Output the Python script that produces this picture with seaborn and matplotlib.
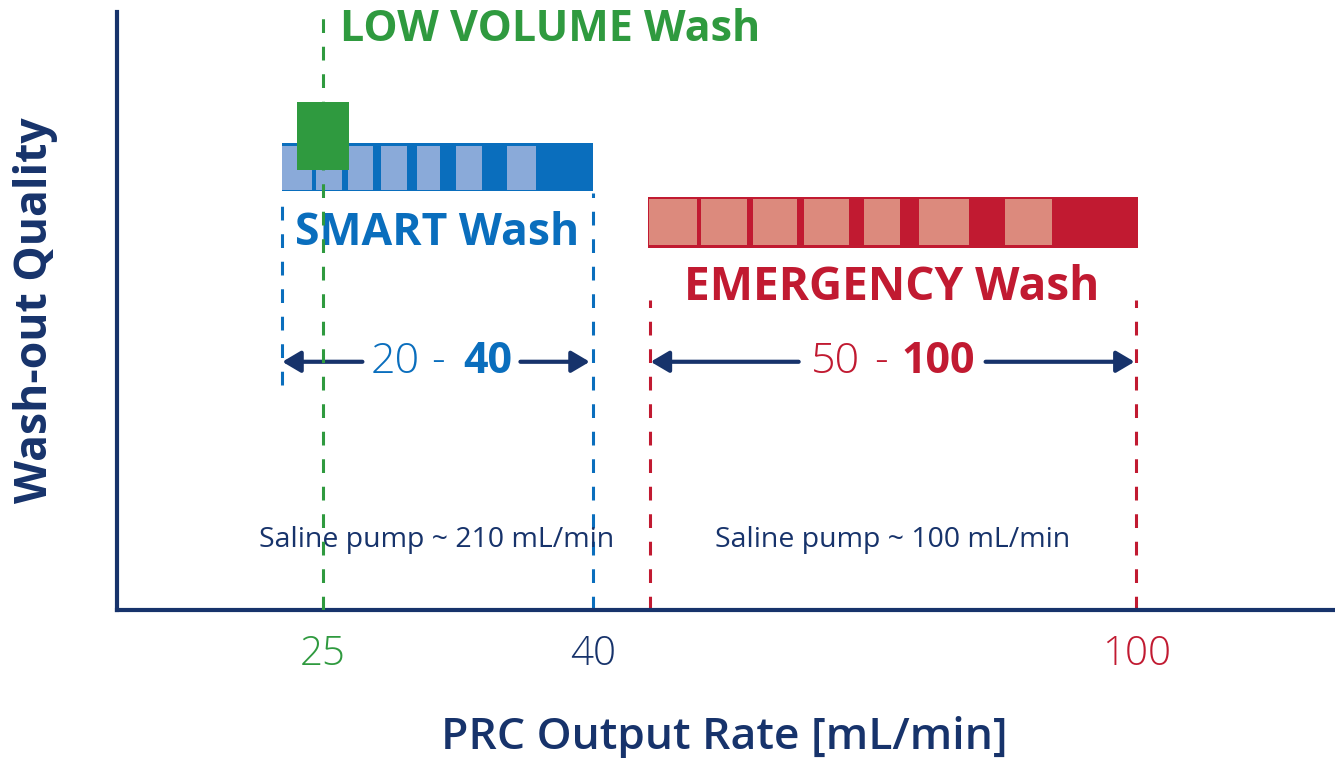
import numpy as np
import matplotlib
matplotlib.use("Agg")
import matplotlib.pyplot as plt
import seaborn as sns

# ---- data (rates in mL/min, quality in arbitrary units 0-10) ----
smart_range = [19.95, 40.1]
smart_light_start = [19.96, 24.2, 26.39, 28.22, 30.21, 32.39, 35.21]
smart_light_end = [23.7, 26.04, 27.78, 29.67, 31.5, 33.83, 36.82]
smart_quality = [7.0, 7.81]

emerg_range = [49.72, 100.2]
emerg_light_start = [49.83, 55.24, 60.61, 65.84, 71.97, 77.65, 86.52]
emerg_light_end = [54.86, 59.99, 65.13, 70.46, 75.74, 82.75, 91.35]
emerg_quality = [6.06, 6.91]

lowvol_range = [21.8, 26.45]
lowvol_quality = [7.36, 8.50]
lowvol_rate = 25

tick_rates = [25, 40, 100]
tick_labels = ["25", "40", "100"]

# schematic (non-linear) rate axis
axis_breaks = [0, 20, 25, 40, 50, 100, 130]
axis_pos = [0, 0.1355, 0.1691, 0.3908, 0.4376, 0.8374, 1.0]

NAVY = "#17336b"
BLUE = "#0a6ebd"
LBLUE = "#8aaad9"
GREEN = "#2f9a3f"
RED = "#c11a31"
LRED = "#dc8a7d"


def fwd(x):
    return np.interp(x, axis_breaks, axis_pos)


def inv(p):
    return np.interp(p, axis_pos, axis_breaks)


sns.set_style("white")
plt.rcParams["font.family"] = ["Open Sans", "DejaVu Sans"]

fig = plt.figure(figsize=(13.35, 7.58), dpi=100)
ax = fig.add_axes([0.0876, 0.1953, 0.912, 0.789])
ax.set_xscale("function", functions=(fwd, inv))
ax.set_xlim(0, 130)
ax.set_ylim(0, 10)

# bars
flat = dict(edgecolor="none", linewidth=0)
ax.broken_barh([(smart_range[0], smart_range[1] - smart_range[0])],
               (smart_quality[0], smart_quality[1] - smart_quality[0]),
               facecolors=BLUE, zorder=2, **flat)
ax.broken_barh([(s, e - s) for s, e in zip(smart_light_start, smart_light_end)],
               (smart_quality[0] + 0.02, 0.73), facecolors=LBLUE, zorder=3, **flat)
ax.broken_barh([(emerg_range[0], emerg_range[1] - emerg_range[0])],
               (emerg_quality[0], emerg_quality[1] - emerg_quality[0]),
               facecolors=RED, zorder=2, **flat)
ax.broken_barh([(s, e - s) for s, e in zip(emerg_light_start, emerg_light_end)],
               (emerg_quality[0] + 0.04, 0.77), facecolors=LRED, zorder=3, **flat)
ax.broken_barh([(lowvol_range[0], lowvol_range[1] - lowvol_range[0])],
               (lowvol_quality[0], lowvol_quality[1] - lowvol_quality[0]),
               facecolors=GREEN, zorder=8, **flat)

# dashed guide lines
dash = dict(linestyles=(0, (4.5, 4.5)), linewidth=2.2)
ax.vlines(lowvol_rate, 0, 10, colors=GREEN, zorder=7, **dash)
ax.vlines(smart_range[0] + 0.05, 3.76, 6.97, colors=BLUE, zorder=1, **dash)
ax.vlines(40, 0, 6.97, colors=BLUE, zorder=1, **dash)
ax.vlines([50, 100], 0, 5.18, colors=RED, zorder=1, **dash)

# range arrows (two halves each, gap for the text)
arrow = dict(arrowstyle="-|>,head_length=1.1,head_width=0.65", color=NAVY,
             lw=3, shrinkA=0, shrinkB=0, mutation_scale=10)
for start, tip in [(27.2, 20.05), (35.98, 39.83), (65.3, 50.1), (84.5, 99.8)]:
    ax.annotate("", xy=(tip, 4.15), xytext=(start, 4.15), arrowprops=arrow, zorder=4)

ax.text(29.0, 4.15, "20", ha="center", va="center", fontsize=31,
        color=BLUE, fontweight="light", zorder=6)
ax.text(31.4, 4.15, "-", ha="center", va="center", fontsize=31,
        color=BLUE, fontweight="light", zorder=6)
ax.text(34.15, 4.15, "40", ha="center", va="center", fontsize=31,
        color=BLUE, fontweight="bold", zorder=6)
ax.text(69.1, 4.15, "50", ha="center", va="center", fontsize=31,
        color=RED, fontweight="light", zorder=6)
ax.text(73.8, 4.15, "-", ha="center", va="center", fontsize=31,
        color=RED, fontweight="light", zorder=6)
ax.text(79.6, 4.15, "100", ha="center", va="center", fontsize=31,
        color=RED, fontweight="bold", zorder=6)

# labels
ax.text(25.94, 9.70, "LOW VOLUME Wash", ha="left", va="center", fontsize=31,
        color=GREEN, fontweight="bold", zorder=5)
ax.text(31.33, 6.30, "SMART Wash", ha="center", va="center", fontsize=32,
        color=BLUE, fontweight="bold", zorder=5)
ax.text(74.85, 5.40, "EMERGENCY Wash", ha="center", va="center", fontsize=33,
        color=RED, fontweight="bold", zorder=5)
ax.text(31.3, 1.17, "Saline pump ~ 210 mL/min", ha="center", va="center",
        fontsize=20.5, color=NAVY, fontweight="medium", zorder=5)
ax.text(74.9, 1.17, "Saline pump ~ 100 mL/min", ha="center", va="center",
        fontsize=20.5, color=NAVY, fontweight="medium", zorder=5)

# axes styling
sns.despine(ax=ax)
for side in ["left", "bottom"]:
    ax.spines[side].set_color(NAVY)
    ax.spines[side].set_linewidth(3)
ax.set_yticks([])
ax.set_xticks(tick_rates)
ax.set_xticklabels(tick_labels, fontsize=29, fontweight="light")
for lab, col in zip(ax.get_xticklabels(), [GREEN, NAVY, RED]):
    lab.set_color(col)
ax.tick_params(axis="x", length=0, pad=17)

ax.set_xlabel("PRC Output Rate [mL/min]", fontsize=32, color=NAVY, fontweight="semibold")
ax.xaxis.set_label_coords(0.499, -0.214)
ax.xaxis.label.set_va("center")
ax.set_ylabel("Wash-out Quality", fontsize=32, color=NAVY, fontweight="bold")
ax.yaxis.set_label_coords(-0.0673, 0.502)
ax.yaxis.label.set_va("center")

fig.savefig("out.png", dpi=100)
